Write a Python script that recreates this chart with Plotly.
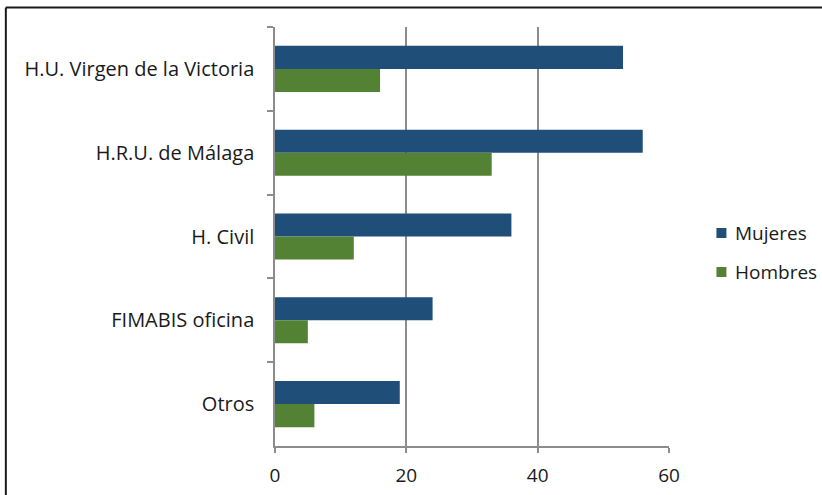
import plotly.graph_objects as go

categories = ["H.U. Virgen de la Victoria", "H.R.U. de Málaga", "H. Civil", "FIMABIS oficina", "Otros"]
mujeres = [53, 56, 36, 24, 19]
hombres = [16, 33, 12, 5, 6]
x_ticks = [0, 20, 40, 60]
series_names = ["Mujeres", "Hombres"]
series_colors = ["#1F4E79", "#548235"]

W, H = 822, 495
L, R, T, B = 275, 152.5, 27, 49
pw = W - L - R
ph = H - T - B

def px_x(p):
    return (p - L) / pw

def px_y(p):
    return 1 - (p - T) / ph

font_family = "Open Sans, sans-serif"
text_color = "#1a1a1a"

fig = go.Figure()
for name, vals, col in zip(series_names, [mujeres, hombres], series_colors):
    fig.add_trace(go.Bar(y=categories, x=vals, orientation="h", name=name,
                         marker=dict(color=col, line=dict(width=0)), showlegend=False))

# manual legend (positions in pixels of the reference)
shapes = []
annotations = []
legend_y = [233, 272]
for name, col, yc in zip(series_names, series_colors, legend_y):
    shapes.append(dict(type="rect", xref="paper", yref="paper",
                       x0=px_x(717), x1=px_x(727), y0=px_y(yc - 5), y1=px_y(yc + 5),
                       fillcolor=col, line=dict(width=0)))
    annotations.append(dict(xref="paper", yref="paper", x=px_x(734), y=px_y(yc),
                            xanchor="left", yanchor="middle", showarrow=False, text=name,
                            font=dict(family=font_family, size=19, color=text_color)))

# outer frame
shapes.append(dict(type="line", xref="paper", yref="paper",
                   x0=px_x(5.5), x1=px_x(830), y0=px_y(7.5), y1=px_y(7.5),
                   line=dict(color="#1a1a1a", width=2)))
shapes.append(dict(type="line", xref="paper", yref="paper",
                   x0=px_x(5.5), x1=px_x(5.5), y0=px_y(7.5), y1=px_y(505),
                   line=dict(color="#1a1a1a", width=2)))

grid = "#8C8C8C"
fig.update_layout(
    width=W, height=H,
    margin=dict(l=L, r=R, t=T, b=B, pad=0, autoexpand=False),
    paper_bgcolor="white", plot_bgcolor="white",
    barmode="group", bargap=0.45, bargroupgap=0,
    font=dict(family=font_family, size=19, color=text_color),
    showlegend=False,
    xaxis=dict(range=[0, 60], tickvals=x_ticks, ticktext=[str(v) for v in x_ticks],
               showgrid=True, gridcolor=grid, gridwidth=1.5,
               showline=True, linecolor=grid, linewidth=1.5,
               ticks="outside", ticklen=5, tickcolor=grid, tickwidth=1.5,
               zeroline=False, fixedrange=True, ticklabelstandoff=6, automargin=False,
               tickfont=dict(family=font_family, size=19, color=text_color)),
    yaxis=dict(categoryorder="array", categoryarray=categories, autorange="reversed",
               showline=True, linecolor=grid, linewidth=1.5,
               ticks="outside", ticklen=6, tickcolor=grid, tickwidth=1.5,
               tickson="boundaries", showgrid=False, zeroline=False,
               ticklabelstandoff=15, automargin=False, fixedrange=True,
               tickfont=dict(family=font_family, size=20, color=text_color)),
    shapes=shapes,
    annotations=annotations,
)

fig.write_html("out.html", config={"displayModeBar": False},
               post_script="document.body.style.margin='0';document.body.style.overflow='hidden';")
